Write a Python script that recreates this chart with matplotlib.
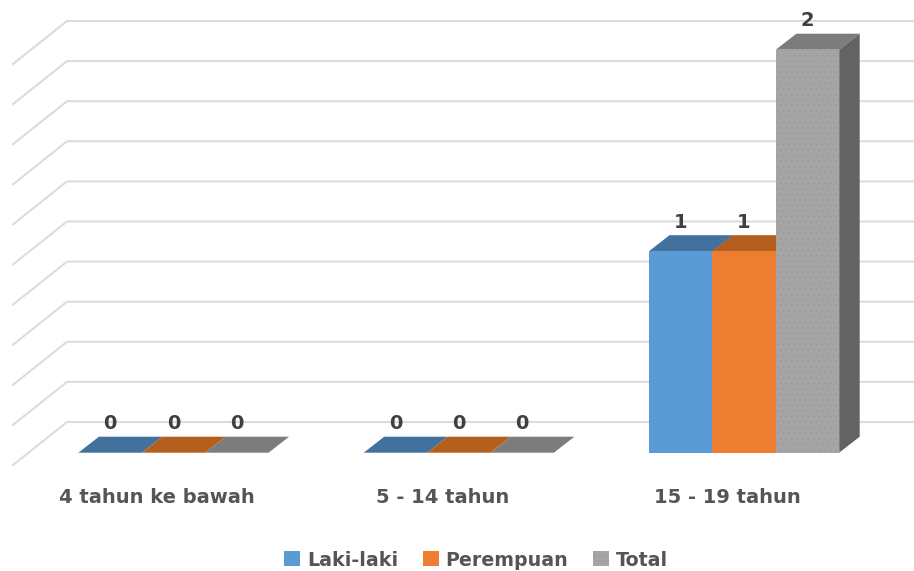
import matplotlib
matplotlib.use("Agg")
import matplotlib.pyplot as plt
from matplotlib.patches import Polygon

plt.rcParams['font.family'] = ['DejaVu Sans']
plt.rcParams['hatch.linewidth'] = 0.3

categories = ["4 tahun ke bawah", "5 - 14 tahun", "15 - 19 tahun"]
laki = [0, 0, 1]
perempuan = [0, 0, 1]
total = [0, 0, 2]
series_names = ["Laki-laki", "Perempuan", "Total"]
grid_levels = [0, 0.2, 0.4, 0.6, 0.8, 1.0, 1.2, 1.4, 1.6, 1.8, 2.0]

W, H = 914, 571
# pixel placement of the value/category scales
PX_CAT = 285.3
PX_VAL = 201.5
X0 = 173.5
Y0 = 452.7

fig = plt.figure(figsize=(W / 100, H / 100), dpi=100)
ax = fig.add_axes([0, 0, 1, 1])
ax.set_xlim(-X0 / PX_CAT, (W - X0) / PX_CAT)
ax.set_ylim((Y0 - H) / PX_VAL, Y0 / PX_VAL)
ax.axis("off")

front = ["#5B9BD5", "#ED7D31", "#A5A5A5"]
top = ["#41719C", "#B45F1D", "#7C7C7C"]
side = ["#41719C", "#B45F1D", "#636363"]
stipple = [None, None, "#969696"]
text_color = "#555555"

bar_w = 63.4 / PX_CAT
dx = 20.5 / PX_CAT
dy = 16 / PX_VAL

# back wall + left wall gridlines
wall_dx = 54 / PX_CAT
wall_dy = 43 / PX_VAL
x_back = (67 - X0) / PX_CAT
x_right = (W - X0) / PX_CAT
y_back = (Y0 - 422) / PX_VAL
for g in grid_levels:
    y = y_back + g * (401.0 / 403.0)
    ax.plot([x_back - wall_dx, x_back, x_right], [y - wall_dy, y, y],
            color="#DCDCDC", lw=1.5, zorder=1, solid_joinstyle="miter")

for i, vals in enumerate([laki, perempuan, total]):
    offset = (i - 1) * bar_w
    for c, v in enumerate(vals):
        x = c + offset - bar_w / 2
        z = 2 + i
        ax.add_patch(Polygon([[x, v], [x + bar_w, v], [x + bar_w + dx, v + dy], [x + dx, v + dy]],
                             closed=True, fc=top[i], ec="none", zorder=z))
        if v > 0:
            ax.add_patch(Polygon([[x + bar_w, 0], [x + bar_w + dx, dy], [x + bar_w + dx, v + dy], [x + bar_w, v]],
                                 closed=True, fc=side[i], ec="none", zorder=z))
    bars = ax.bar([c + offset for c in range(3)], vals, width=bar_w, color=front[i],
                  label=series_names[i], zorder=2 + i, linewidth=0)
    if stipple[i]:
        for b in bars:
            b.set_hatch("...")
            b.set_edgecolor(stipple[i])
    for c, v in enumerate(vals):
        ax.annotate(str(v), (c + offset, v), xytext=(0, 21), textcoords="offset points",
                    ha="center", va="center", fontsize=14, fontweight="bold",
                    color="#404040", zorder=10)

for c, label in enumerate(categories):
    ax.annotate(label, (c, 0), xytext=(-12, -32.5), textcoords="offset points",
                ha="center", va="center", fontsize=14, fontweight="bold", color=text_color)

fig.legend(loc="center", bbox_to_anchor=(476 / W, 1 - 560 / H), ncol=3, frameon=False,
           labelcolor=text_color, handlelength=0.85, handleheight=0.85,
           handletextpad=0.35, columnspacing=1.3, prop={"size": 13.7, "weight": "bold"})

fig.savefig("out.png", dpi=100)
